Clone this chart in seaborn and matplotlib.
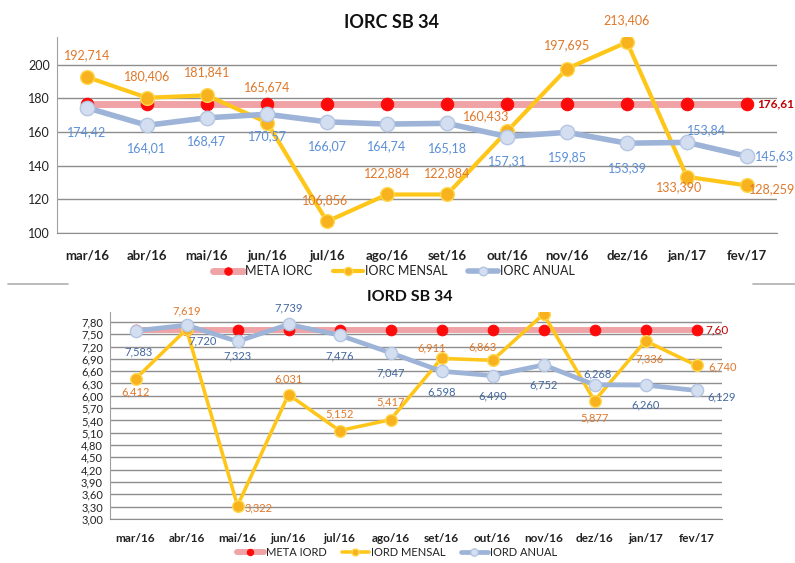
import matplotlib
matplotlib.use("Agg")
import matplotlib.pyplot as plt
from matplotlib.lines import Line2D
from matplotlib.ticker import AutoMinorLocator, FuncFormatter, MultipleLocator
import seaborn as sns
import pandas as pd

# dados
meses = ["mar/16", "abr/16", "mai/16", "jun/16", "jul/16", "ago/16",
         "set/16", "out/16", "nov/16", "dez/16", "jan/17", "fev/17"]

iorc_meta = [176.61, 176.61, 176.61, 176.61, 176.61, 176.61,
             176.61, 176.61, 176.61, 176.61, 176.61, 176.61]
iorc_mensal = [192.714, 180.406, 181.841, 165.674, 106.856, 122.884,
               122.884, 160.433, 197.695, 213.406, 133.390, 128.259]
iorc_anual = [174.42, 164.01, 168.47, 170.57, 166.07, 164.74,
              165.18, 157.31, 159.85, 153.39, 153.84, 145.63]

iord_meta = [7.60, 7.60, 7.60, 7.60, 7.60, 7.60,
             7.60, 7.60, 7.60, 7.60, 7.60, 7.60]
iord_mensal = [6.412, 7.619, 3.322, 6.031, 5.152, 5.417,
               6.911, 6.863, 7.99, 5.877, 7.336, 6.740]
iord_anual = [7.583, 7.720, 7.323, 7.739, 7.476, 7.047,
              6.598, 6.490, 6.752, 6.268, 6.260, 6.129]

# posicao dos rotulos (offset em pixels) - (dx, dy, ha)
off_iorc_mensal = [(0, 22, "center"), (0, 22, "center"), (0, 23, "center"), (0, 35, "center"),
                   (-2, 21, "center"), (0, 21, "center"), (0, 21, "center"), (-21, 15, "center"),
                   (0, 23, "center"), (0, 22, "center"), (-8, -10, "center"), (2, -4, "left")]
off_iorc_anual = [(0, -24, "center"), (0, -23, "center"), (0, -23, "center"), (0, -22, "center"),
                  (0, -24, "center"), (0, -22, "center"), (0, -25, "center"), (0, -25, "center"),
                  (0, -25, "center"), (0, -25, "center"), (20, 12, "center"), (8, 0, "left")]
off_iord_mensal = [(0, -13, "center"), (0, 18, "center"), (7, -2, "left"), (0, 16, "center"),
                   (0, 17, "center"), (0, 18, "center"), (-10, 10, "center"), (-10, 13, "center"),
                   None, (0, -17, "center"), (4, -18, "center"), (12, -2, "left")]
off_iord_anual = [(3, -21, "center"), (16, -16, "center"), (0, -14, "center"), (0, 16, "center"),
                  (0, -21, "center"), (0, -20, "center"), (0, -21, "center"), (0, -20, "center"),
                  (0, -20, "center"), (3, 11, "center"), (0, -20, "center"), (11, -6, "left")]

sns.set_style("white")
plt.rcParams["font.family"] = ["Lato", "DejaVu Sans"]

C_META_LINE = "#F0A3A6"
C_META_MK = "#FF0A0A"
C_MENS_LINE = "#FFC61A"
C_MENS_MK = "#F7B21E"
C_ANU_LINE = "#9DB4D8"
C_ANU_MK = "#D3DEF0"
C_LBL_MENS = "#E0782A"
C_GRID = "#8E8E8E"

fig = plt.figure(figsize=(7.95, 5.63), dpi=100)
W, H = 795, 563


def fmt(v, casas):
    return f"{v:.{casas}f}".replace(".", ",")


def grafico(ax, meta, mensal, anual, nomes, casas_anual, offs_m, offs_a,
            c_anual_lbl, fs_lbl, fs_tick, escala):
    df = pd.DataFrame({"mes": meses, "meta": meta, "mensal": mensal, "anual": anual})
    ms = 9 * escala
    sns.lineplot(data=df, x="mes", y="meta", ax=ax, color=C_META_LINE, lw=5 * escala,
                 marker="o", markersize=ms, markerfacecolor=C_META_MK,
                 markeredgecolor=C_META_MK, label=nomes[0], zorder=2)
    sns.lineplot(data=df, x="mes", y="mensal", ax=ax, color=C_MENS_LINE, lw=3 * escala,
                 marker="o", markersize=ms * 1.1, markerfacecolor=C_MENS_MK,
                 markeredgecolor="#FFD84D", markeredgewidth=1, label=nomes[1], zorder=3)
    sns.lineplot(data=df, x="mes", y="anual", ax=ax, color=C_ANU_LINE, lw=4 * escala,
                 marker="o", markersize=ms * 1.15, markerfacecolor=C_ANU_MK,
                 markeredgecolor="#B4C6E2", markeredgewidth=1, label=nomes[2], zorder=4)

    for i, v in enumerate(mensal):
        if offs_m[i] is None:
            continue
        dx, dy, ha = offs_m[i]
        ax.annotate(fmt(v, 3), (i, v), xytext=(dx, dy), textcoords="offset pixels",
                    ha=ha, va="center", color=C_LBL_MENS, fontsize=fs_lbl,
                    annotation_clip=False, zorder=6)
    for i, v in enumerate(anual):
        dx, dy, ha = offs_a[i]
        ax.annotate(fmt(v, casas_anual), (i, v), xytext=(dx, dy), textcoords="offset pixels",
                    ha=ha, va="center", color=c_anual_lbl, fontsize=fs_lbl,
                    annotation_clip=False, zorder=6)

    ax.set_xlim(-0.5, 11.5)
    ax.set_xlabel("")
    ax.set_ylabel("")
    ax.grid(axis="y", color=C_GRID, lw=1)
    ax.set_axisbelow(True)
    for s in ["top", "right"]:
        ax.spines[s].set_visible(False)
    ax.spines["left"].set_color("#A0A0A0")
    ax.spines["bottom"].set_color(C_GRID)
    ax.tick_params(axis="x", length=0, labelsize=fs_tick + 0.5, pad=12 * escala)
    ax.tick_params(axis="y", which="major", length=3, color="#A0A0A0", labelsize=fs_tick, pad=2)
    ax.tick_params(axis="y", which="minor", length=2, color="#A0A0A0")
    for t in ax.get_xticklabels():
        t.set_fontweight("bold")
        t.set_color("#222222")
    for t in ax.get_yticklabels():
        t.set_color("#222222")
    ax.get_legend().remove()


# ---- IORC ----
ax1 = fig.add_axes([57 / W, 1 - 233 / H, 720 / W, 196 / H])
grafico(ax1, iorc_meta, iorc_mensal, iorc_anual, ["META IORC", "IORC MENSAL", "IORC ANUAL"],
        2, off_iorc_mensal, off_iorc_anual, "#5B8FD6", 9, 9, 1.0)
ax1.set_ylim(100, 216.5)
ax1.set_yticks([100, 120, 140, 160, 180, 200])
ax1.yaxis.set_minor_locator(AutoMinorLocator(5))
ax1.annotate(fmt(iorc_meta[-1], 2), (11, iorc_meta[-1]), xytext=(10, 0),
             textcoords="offset pixels", ha="left", va="center", color="#C00000",
             fontsize=8.5, fontweight="bold", annotation_clip=False)
fig.text(392 / W, 1 - 22 / H, "IORC SB 34", ha="center", va="center",
         fontsize=13, fontweight="bold", color="#111111")
h, l = ax1.get_legend_handles_labels()
fig.legend(h, l, loc="center", bbox_to_anchor=(394 / W, 1 - 271 / H), ncol=3,
           frameon=False, fontsize=9, handlelength=2.4, columnspacing=1.6,
           handletextpad=0.2, labelcolor="#222222", markerscale=0.6)

# separador
fig.add_artist(Line2D([8 / W, 68 / W], [1 - 284 / H, 1 - 284 / H], color="#B0B0B0", lw=1.2))
fig.add_artist(Line2D([753 / W, 795 / W], [1 - 284 / H, 1 - 284 / H], color="#B0B0B0", lw=1.2))

# ---- IORD ----
ax2 = fig.add_axes([110 / W, 1 - 519 / H, 612 / W, 207 / H])
grafico(ax2, iord_meta, iord_mensal, iord_anual, ["META IORD", "IORD MENSAL", "IORD ANUAL"],
        3, off_iord_mensal, off_iord_anual, "#41679F", 8, 8, 0.85)
ax2.set_ylim(3.0, 8.04)
ax2.yaxis.set_major_locator(MultipleLocator(0.30))
ax2.yaxis.set_minor_locator(AutoMinorLocator(2))
ax2.yaxis.set_major_formatter(FuncFormatter(lambda v, p: fmt(v, 2)))
for t in ax2.get_yticklabels():
    t.set_color("#222222")
ax2.annotate(fmt(iord_meta[-1], 2), (11, iord_meta[-1]), xytext=(9, 0),
             textcoords="offset pixels", ha="left", va="center", color="#C00000",
             fontsize=8.5, annotation_clip=False)
fig.text(410 / W, 1 - 297 / H, "IORD SB 34", ha="center", va="center",
         fontsize=11.5, fontweight="bold", color="#111111")
h, l = ax2.get_legend_handles_labels()
fig.legend(h, l, loc="center", bbox_to_anchor=(397 / W, 1 - 552 / H), ncol=3,
           frameon=False, fontsize=8, handlelength=2.4, columnspacing=1.4,
           handletextpad=0.2, labelcolor="#222222", markerscale=0.6)

fig.savefig("out.png", dpi=100)
